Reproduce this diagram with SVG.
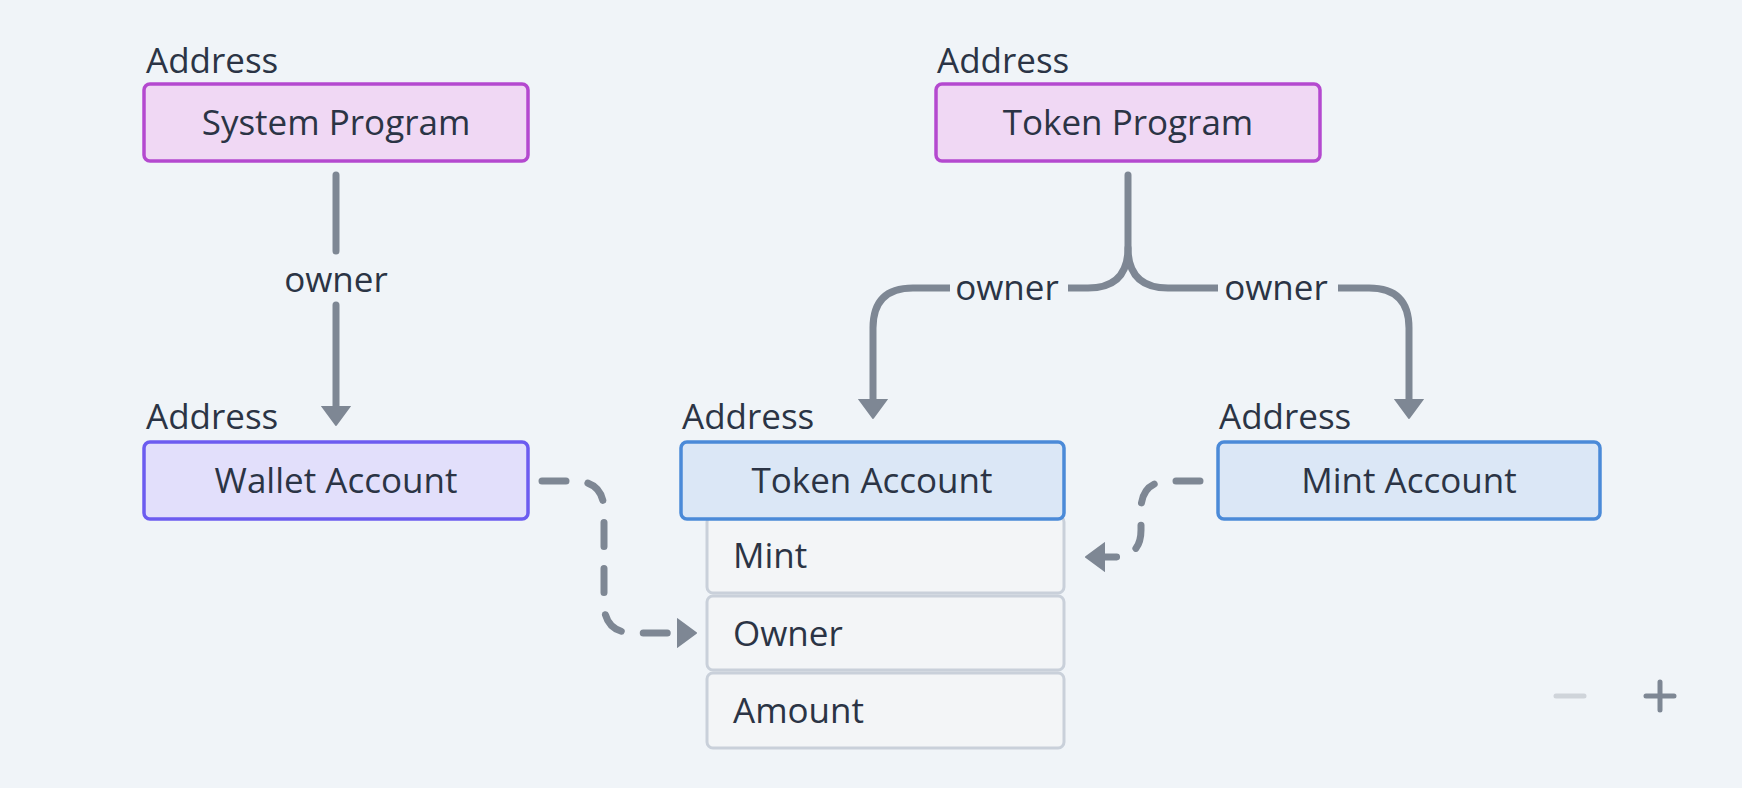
<svg xmlns="http://www.w3.org/2000/svg" width="1742" height="788" viewBox="0 0 1742 788">
<style>
text{font-family:"Open Sans","Noto Sans","Liberation Sans",sans-serif;font-size:35px;fill:#2b3445;font-weight:500}
.c{text-anchor:middle}
.prog{fill:#f0d8f4;stroke:#b449cf;stroke-width:3.5}
.wallet{fill:#e2dffb;stroke:#6c5cf0;stroke-width:3.5}
.acct{fill:#dbe7f6;stroke:#4b8ad8;stroke-width:3.5}
.field{fill:#f3f5f7;stroke:#c9d0da;stroke-width:3}
.edge{fill:none;stroke:#7e8794;stroke-width:7;stroke-linecap:round;stroke-linejoin:round}
.dash{stroke-dasharray:24 22}
</style>
<defs>
<marker id="arr" markerUnits="userSpaceOnUse" markerWidth="24" markerHeight="32" viewBox="0 -16 24 32" refX="0" refY="0" orient="auto">
<path d="M0,-14 L19,0 L0,14 Z" fill="#7e8794" stroke="#7e8794" stroke-width="2" stroke-linejoin="round"/>
</marker>
</defs>
<rect width="1742" height="788" fill="#f0f4f8"/>

<g id="connectors">
<path class="edge" d="M336,175 V251 M336,305 V406" marker-end="url(#arr)"/>
<path class="edge" d="M1128,175 V248 Q1128,288 1088,288 H913 Q873,288 873,328 V399" marker-end="url(#arr)"/>
<path class="edge" d="M1128,248 Q1128,288 1168,288 H1369 Q1409,288 1409,328 V399" marker-end="url(#arr)"/>
<rect x="950" y="268" width="118" height="40" fill="#f0f4f8"/>
<rect x="1218" y="268" width="120" height="40" fill="#f0f4f8"/>
<text class="c" x="336" y="292">owner</text>
<text class="c" x="1007" y="300">owner</text>
<text class="c" x="1276" y="300">owner</text>
<path class="edge dash" d="M542,481 H574 Q604,481 604,511 V603 Q604,633 634,633 H677" marker-end="url(#arr)"/>
<path class="edge dash" d="M1200,481 H1170 Q1141,481 1141,510 V530 Q1141,557 1114,557 H1105" marker-end="url(#arr)"/>
</g>

<g id="system-program">
<text x="146" y="73">Address</text>
<rect class="prog" x="144" y="84" width="384" height="77" rx="6"/>
<text class="c" x="336" y="135">System Program</text>
</g>

<g id="token-program">
<text x="937" y="73">Address</text>
<rect class="prog" x="936" y="84" width="384" height="77" rx="6"/>
<text class="c" x="1128" y="135">Token Program</text>
</g>

<g id="wallet-account">
<text x="146" y="429">Address</text>
<rect class="wallet" x="144" y="442" width="384" height="77" rx="6"/>
<text class="c" x="336" y="493">Wallet Account</text>
</g>

<g id="token-account">
<rect class="field" x="707" y="516" width="357" height="77" rx="6"/>
<text x="733" y="568">Mint</text>
<rect class="field" x="707" y="596" width="357" height="74" rx="6"/>
<text x="733" y="646">Owner</text>
<rect class="field" x="707" y="673" width="357" height="75" rx="6"/>
<text x="733" y="723">Amount</text>
<text x="682" y="429">Address</text>
<rect class="acct" x="681" y="442" width="383" height="77" rx="6"/>
<text class="c" x="872" y="493">Token Account</text>
</g>

<g id="mint-account">
<text x="1219" y="429">Address</text>
<rect class="acct" x="1218" y="442" width="382" height="77" rx="6"/>
<text class="c" x="1409" y="493">Mint Account</text>
</g>

<g id="zoom-controls">
<path d="M1556,696 H1584" stroke="#cfd4da" stroke-width="5" stroke-linecap="round"/>
<path d="M1646,696 H1674 M1660,682 V710" stroke="#7e8794" stroke-width="5" stroke-linecap="round"/>
</g>
</svg>
